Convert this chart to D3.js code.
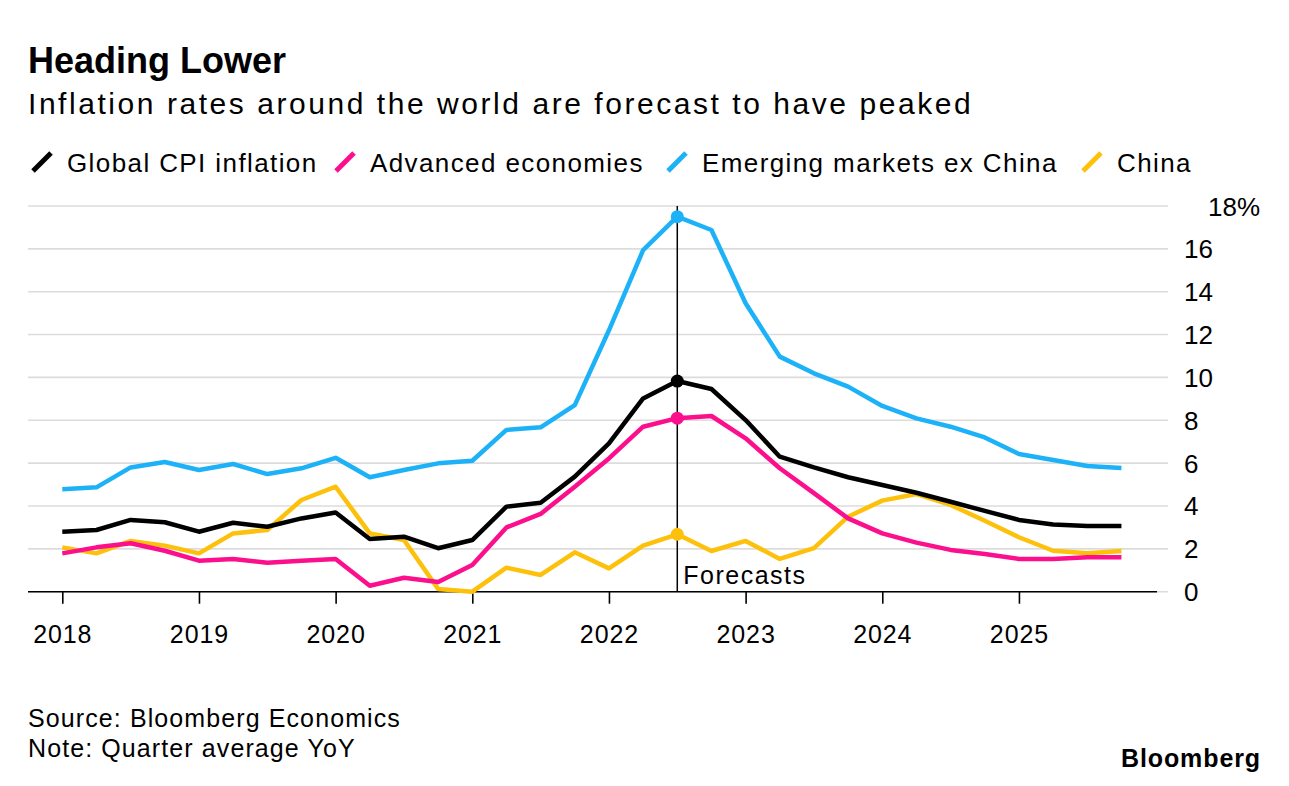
<!DOCTYPE html>
<html>
<head>
<meta charset="utf-8">
<script src="https://cdn.jsdelivr.net/npm/d3@7"></script>
<style>
  body { margin: 0; background: #fff; }
  svg { display: block; font-family: "Liberation Sans", Arial, Helvetica, sans-serif; }
</style>
</head>
<body>
<div id="svg-container"></div>
<script>
////////////////////////////  Data  ////////////////////////////////
const quarters = [
  "2018 Q1", "2018 Q2", "2018 Q3", "2018 Q4",
  "2019 Q1", "2019 Q2", "2019 Q3", "2019 Q4",
  "2020 Q1", "2020 Q2", "2020 Q3", "2020 Q4",
  "2021 Q1", "2021 Q2", "2021 Q3", "2021 Q4",
  "2022 Q1", "2022 Q2", "2022 Q3", "2022 Q4",
  "2023 Q1", "2023 Q2", "2023 Q3", "2023 Q4",
  "2024 Q1", "2024 Q2", "2024 Q3", "2024 Q4",
  "2025 Q1", "2025 Q2", "2025 Q3", "2025 Q4"
];
const globalCPI = [
  2.80, 2.88, 3.35, 3.24, 2.80, 3.22, 3.03, 3.42,
  3.70, 2.46, 2.57, 2.03, 2.41, 3.97, 4.15, 5.37,
  6.92, 9.02, 9.83, 9.46, 8.01, 6.30, 5.80, 5.34,
  4.98, 4.62, 4.20, 3.77, 3.35, 3.14, 3.07, 3.07
];
const advanced = [
  1.79, 2.07, 2.26, 1.91, 1.45, 1.53, 1.35, 1.45,
  1.53, 0.28, 0.65, 0.45, 1.25, 3.00, 3.63, 4.90,
  6.22, 7.70, 8.10, 8.20, 7.16, 5.76, 4.60, 3.42,
  2.72, 2.29, 1.95, 1.76, 1.53, 1.53, 1.61, 1.61
];
const emergingExChina = [
  4.78, 4.87, 5.80, 6.05, 5.68, 5.96, 5.49, 5.76,
  6.25, 5.34, 5.68, 5.99, 6.11, 7.55, 7.67, 8.71,
  12.2, 15.94, 17.50, 16.88, 13.46, 10.97, 10.19, 9.57,
  8.67, 8.09, 7.70, 7.20, 6.43, 6.15, 5.87, 5.77
];
const china = [
  2.07, 1.79, 2.37, 2.15, 1.79, 2.72, 2.88, 4.28,
  4.90, 2.72, 2.41, 0.13, 0.00, 1.12, 0.78, 1.84,
  1.09, 2.15, 2.68, 1.90, 2.37, 1.53, 2.03, 3.50,
  4.25, 4.56, 4.05, 3.31, 2.54, 1.91, 1.79, 1.90
];
const seriesNames = ["Global CPI inflation", "Advanced economies", "Emerging markets ex China", "China"];
const yearTicks = [2018, 2019, 2020, 2021, 2022, 2023, 2024, 2025];
const yTicks = [0, 2, 4, 6, 8, 10, 12, 14, 16, 18];
const forecastStart = "2022 Q3";

const colors = ["#000000", "#fc0f8c", "#1db2f8", "#fdc10c"];
const allSeries = [globalCPI, advanced, emergingExChina, china];

////////////////////////////  Init  ///////////////////////////////
const width = 1289, height = 786;
const svg = d3.select("#svg-container").append("svg")
  .attr("width", width).attr("height", height);

const parseQuarter = (s) => {
  const [y, q] = s.split(" Q");
  return +y + (+q - 1) / 4;
};
const dates = quarters.map(parseQuarter);

const xScale = d3.scaleLinear().domain([2018, 2026]).range([62.3, 1155.6]);
const yScale = d3.scaleLinear().domain([0, 18]).range([591.7, 206]);

// titles
svg.append("text").attr("x", 28).attr("y", 73)
  .style("font-size", "36px").style("font-weight", "bold")
  .text("Heading Lower");
svg.append("text").attr("x", 28).attr("y", 114)
  .style("font-size", "30px").style("letter-spacing", "2.55px")
  .text("Inflation rates around the world are forecast to have peaked");

// legend
const legendX = [30, 333, 665, 1080];
seriesNames.forEach((name, i) => {
  const g = svg.append("g").attr("transform", `translate(${legendX[i]},0)`);
  g.append("line")
    .attr("x1", 3).attr("y1", 171).attr("x2", 21).attr("y2", 153)
    .attr("stroke", colors[i]).attr("stroke-width", 5);
  g.append("text").attr("x", 37).attr("y", 172)
    .style("font-size", "26px").style("letter-spacing", "1.4px").text(name);
});

// grid
svg.append("g").selectAll("line").data(yTicks).join("line")
  .attr("x1", 28).attr("x2", 1168)
  .attr("y1", (d) => yScale(d)).attr("y2", (d) => yScale(d))
  .attr("stroke", "#dcdcdc").attr("stroke-width", 1.6);

// y labels
svg.append("g").selectAll("text").data(yTicks).join("text")
  .attr("x", (d) => (d === 18 ? 1208 : 1184))
  .attr("y", (d) => yScale(d) + 9.5)
  .style("font-size", "26px")
  .text((d) => (d === 18 ? d + "%" : d));

// x axis baseline + ticks
svg.append("line")
  .attr("x1", 28).attr("x2", 1157)
  .attr("y1", yScale(0)).attr("y2", yScale(0))
  .attr("stroke", "#000").attr("stroke-width", 1.6);

const xAxis = d3.axisBottom(xScale).tickValues(yearTicks).tickSize(12).tickPadding(22)
  .tickFormat(d3.format("d"));
const xg = svg.append("g").attr("transform", `translate(0,${yScale(0)})`).call(xAxis);
xg.select(".domain").remove();
xg.selectAll(".tick line").attr("stroke", "#000").attr("stroke-width", 1.6);
xg.selectAll(".tick text")
  .style("font-size", "25px").style("letter-spacing", "0.9px")
  .style("font-family", "'Liberation Sans', Arial, sans-serif")
  .attr("fill", "#000");

// forecast marker
const fx = xScale(parseQuarter(forecastStart));
svg.append("line")
  .attr("x1", fx).attr("x2", fx)
  .attr("y1", yScale(18)).attr("y2", yScale(0))
  .attr("stroke", "#000").attr("stroke-width", 1.5);
svg.append("text").attr("x", fx + 6).attr("y", 584)
  .style("font-size", "25px").style("letter-spacing", "1.5px").text("Forecasts");

// lines (China at the bottom, global on top)
const line = d3.line()
  .x((d, i) => xScale(dates[i]))
  .y((d) => yScale(d));

const order = [3, 2, 1, 0];
order.forEach((i) => {
  svg.append("path")
    .datum(allSeries[i])
    .attr("d", line)
    .attr("fill", "none")
    .attr("stroke", colors[i])
    .attr("stroke-width", 4.5)
    .attr("stroke-linejoin", "round");
});

// dots at forecast start
const fi = quarters.indexOf(forecastStart);
order.forEach((i) => {
  svg.append("circle")
    .attr("cx", xScale(dates[fi]))
    .attr("cy", yScale(allSeries[i][fi]))
    .attr("r", 6.5)
    .attr("fill", colors[i]);
});

// footer
svg.append("text").attr("x", 28).attr("y", 727)
  .style("font-size", "25px").style("letter-spacing", "1.1px")
  .text("Source: Bloomberg Economics");
svg.append("text").attr("x", 28).attr("y", 757)
  .style("font-size", "25px").style("letter-spacing", "1.1px")
  .text("Note: Quarter average YoY");
svg.append("text").attr("x", 1261).attr("y", 767)
  .style("text-anchor", "end")
  .style("font-size", "25px").style("font-weight", "bold")
  .style("letter-spacing", "0.9px")
  .text("Bloomberg");
</script>
</body>
</html>
